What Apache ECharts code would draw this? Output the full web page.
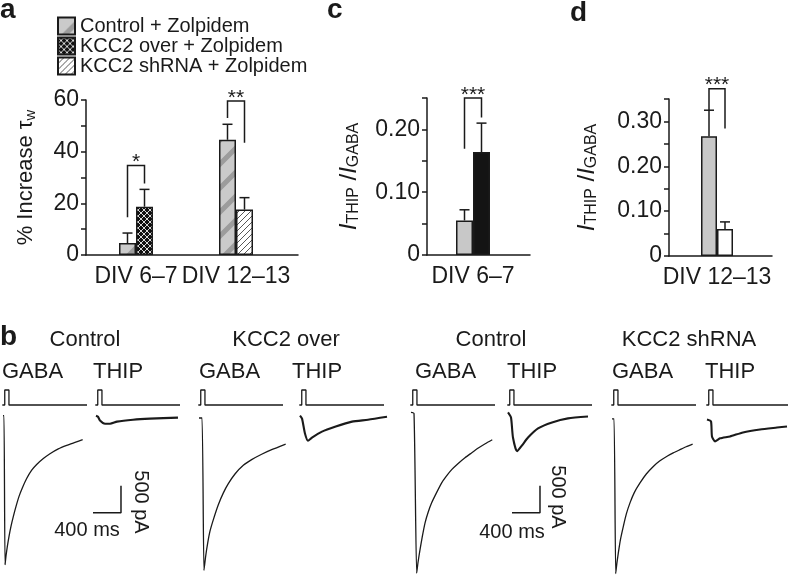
<!DOCTYPE html>
<html>
<head>
<meta charset="utf-8">
<script src="https://cdn.jsdelivr.net/npm/echarts@6/dist/echarts.min.js"></script>
<style>
  html, body { margin: 0; background: #fff; }
  #main { width: 788px; height: 576px; }
</style>
</head>
<body>
<div id="main"></div>
<script>
// ---- panel a: % increase of tau_w with zolpidem
var divA = ["DIV 6–7", "DIV 12–13"];
var ctrlZolp = [4.6, 44.6];
var ctrlZolpErr = [3.9, 6.0];
var overZolp = [18.7, "-"];
var overZolpErr = [6.7, "-"];
var shZolp = ["-", 17.6];
var shZolpErr = ["-", 4.6];
// significance brackets (left leg start, bracket top, right leg start)
var sigACat = [0, 1];
var sigALeft = [14.6, 53];
var sigATop = [34.6, 59.6];
var sigARight = [27.7, 43.5];
var sigAText = ["*", "**"];

// ---- panel c: I_THIP / I_GABA, DIV 6-7
var divC = ["DIV 6–7"];
var ctrlC = [0.055];
var ctrlCErr = [0.017];
var overC = [0.164];
var overCErr = [0.046];
var sigCLeft = [0.169], sigCTop = [0.250], sigCRight = [0.219], sigCText = ["***"];

// ---- panel d: I_THIP / I_GABA, DIV 12-13
var divD = ["DIV 12–13"];
var ctrlD = [0.267];
var ctrlDErr = [0.058];
var shD = [0.060];
var shDErr = [0.016];
var sigDLeft = [0.324], sigDTop = [0.373], sigDRight = [0.284], sigDText = ["***"];

// ---- panel b: example sweeps (time in ms from sweep start, current in pA)
var gaba1T = [0, 14, 29, 43, 62, 86, 114, 148, 186, 229, 276, 338, 410, 481, 576, 671, 790, 910, 1029, 1138];
var gaba1I = [0, 0, -2760, -2600, -2420, -2235, -2050, -1865, -1680, -1495, -1340, -1165, -1010, -905, -795, -705, -615, -550, -495, -445];
var thip1T = [0, 29, 57, 129, 200, 300, 529, 771, 1171];
var thip1I = [0, -20, -90, -150, -150, -110, -75, -55, -35];
var gaba2T = [0, 43, 71, 95, 124, 157, 205, 276, 348, 419, 514, 633, 752, 895, 1038, 1238];
var gaba2I = [-43, -43, -2865, -2605, -2360, -2140, -1925, -1650, -1430, -1260, -1080, -920, -815, -715, -630, -525];
var thip2T = [0, 29, 71, 114, 171, 314, 500, 743, 971, 1243];
var thip2I = [0, -55, -330, -465, -405, -295, -205, -110, -75, -20];
var gaba3T = [0, 43, 81, 100, 129, 160, 200, 245, 295, 360, 438, 500, 581, 670, 771, 860, 962, 1060, 1161];
var gaba3I = [60, 40, -2915, -2720, -2480, -2250, -1990, -1790, -1615, -1440, -1245, -1130, -1000, -890, -780, -695, -600, -520, -445];
var thip3T = [0, 43, 71, 129, 200, 286, 429, 629, 857, 1143];
var thip3I = [60, -35, -405, -660, -550, -405, -235, -125, -50, -15];
var gaba4T = [0, 29, 53, 70, 90, 120, 162, 205, 257, 320, 400, 490, 590, 680, 781, 875, 971, 1060, 1152];
var gaba4I = [-60, -60, -2925, -2730, -2545, -2300, -2050, -1820, -1615, -1420, -1245, -1080, -940, -840, -755, -690, -630, -575, -525];
var thip4T = [0, 57, 71, 114, 186, 329, 514, 757, 1000, 1143];
var thip4I = [-70, -105, -385, -475, -420, -385, -310, -255, -220, -200];
// drug application pulse (relative units)
var stimT = [-10, 25, 25, 85, 85, 1200];
var stimV = [0, 0, 1, 1, 0, 0];
var sweepTitles = ["Control", "KCC2 over", "Control", "KCC2 shRNA"];
var drugNames = ["GABA", "THIP", "GABA", "THIP", "GABA", "THIP", "GABA", "THIP"];
var scaleBarMs = 400, scaleBarPa = 500;

// ---- layout
var INK = "#1a1a1a";
var FONT = '"Liberation Sans", Arial, Helvetica, sans-serif';
var sweepLeft = [3, 96, 199, 300, 411, 508, 612, 707];   // px where each sweep starts
var drugLabelX = [2, 93, 199, 292, 415, 507, 612, 705];
var titleX = [85, 286, 491, 689];
var scaleSweep = [1, 5];                                  // sweeps that carry a scale bar
var scaleCorner = [[357, -1800], [457, -1800]];           // ms, pA
var scaleMsPos = [[87, 530], [512, 532]];
var scalePaPos = [[141, 502], [558, 497]];
var PX_PER_MS = 0.07, T_MIN = -50, T_MAX = 1250;

function pattern(size, bg, draw) {
  var cv = document.createElement("canvas");
  cv.width = cv.height = size;
  var g = cv.getContext("2d");
  g.fillStyle = bg;
  g.fillRect(0, 0, size, size);
  draw(g, size);
  return { image: cv, repeat: "repeat" };
}
function diag(g, s, off) {
  g.beginPath();
  g.moveTo(-s + off, s); g.lineTo(off, 0);
  g.moveTo(off, s); g.lineTo(s + off, 0);
  g.moveTo(s + off, s); g.lineTo(2 * s + off, 0);
  g.stroke();
}
var patCtrl = pattern(24, "#cacaca", function (g, s) {
  g.strokeStyle = "#9c9c9c"; g.lineWidth = 5; diag(g, s, 0);
});
var patOver = pattern(6, "#111", function (g, s) {
  g.strokeStyle = "#d8d8d8"; g.lineWidth = 1;
  g.beginPath(); g.moveTo(0, 0); g.lineTo(s, s); g.moveTo(0, s); g.lineTo(s, 0); g.stroke();
});
var patSh = pattern(6, "#fff", function (g, s) {
  g.strokeStyle = "#444"; g.lineWidth = 0.9; diag(g, s, 0);
});

function zip(a, b) { return a.map(function (v, i) { return [v, b[i]]; }); }
function errData(means, errs) {
  var out = [];
  means.forEach(function (m, i) { if (m !== "-") out.push([i, m, errs[i]]); });
  return out;
}
function errSeries(grid, means, errs, slot, barW) {
  return {
    type: "custom", xAxisIndex: grid, yAxisIndex: grid, z: 3, silent: true,
    data: errData(means, errs),
    renderItem: function (params, api) {
      var base = api.coord([api.value(0), api.value(1)]);
      var tip = api.coord([api.value(0), api.value(1) + api.value(2)]);
      var x = base[0] + slot * barW / 2;
      var st = { stroke: INK, lineWidth: 1.5 };
      return { type: "group", children: [
        { type: "line", shape: { x1: x, y1: base[1], x2: x, y2: tip[1] }, style: st },
        { type: "line", shape: { x1: x - 5, y1: tip[1], x2: x + 5, y2: tip[1] }, style: st }
      ] };
    }
  };
}
function sigSeries(grid, cats, left, top, right, text, barW) {
  return {
    type: "custom", xAxisIndex: grid, yAxisIndex: grid, z: 3, silent: true, clip: false,
    data: cats.map(function (c, i) { return [c, left[i], top[i], right[i]]; }),
    renderItem: function (params, api) {
      var c = api.value(0);
      var l = api.coord([c, api.value(1)]);
      var t = api.coord([c, api.value(2)]);
      var r = api.coord([c, api.value(3)]);
      var xl = l[0] - barW / 2, xr = l[0] + barW / 2;
      return { type: "group", children: [
        { type: "polyline", shape: { points: [[xl, l[1]], [xl, t[1]], [xr, t[1]], [xr, r[1]]] },
          style: { stroke: INK, lineWidth: 1.5, fill: null } },
        { type: "text", x: (xl + xr) / 2, y: t[1] - 3,
          style: { text: text[params.dataIndex], fill: INK, font: "21px " + FONT,
                   align: "center", verticalAlign: "middle" } }
      ] };
    }
  };
}
function barSeries(name, grid, data, color, barW, stack) {
  return {
    type: "bar", name: name, xAxisIndex: grid, yAxisIndex: grid, data: data,
    barWidth: barW, barGap: 0, stack: stack,
    itemStyle: { color: color, borderColor: INK, borderWidth: 1.5 }
  };
}
function hundredths(step) {
  return function (v) {
    var k = Math.round(v * 100);
    return k % step ? "" : (k ? (k / 100).toFixed(2) : "0");
  };
}
var axisText = { fontSize: 23, color: INK, fontFamily: FONT };
var nameText = { fontSize: 22, color: INK, fontFamily: FONT };
var ratioRich = {
  i: { fontSize: 24, fontStyle: "italic", color: INK, fontFamily: FONT },
  s: { fontSize: 16, color: INK, fontFamily: FONT, verticalAlign: "bottom", padding: [9, 0, 0, 0] },
  n: { fontSize: 24, color: INK, fontFamily: FONT }
};
function barYAxis(grid, max, fmt, name, gap, rich) {
  return {
    gridIndex: grid, type: "value", min: 0, max: max, interval: max > 1 ? 10 : 0.05,
    axisLine: { show: true, lineStyle: { color: INK, width: 1.5 } },
    axisTick: { show: true, length: 5, lineStyle: { color: INK, width: 1.5 } },
    axisLabel: Object.assign({ margin: 7, formatter: fmt }, axisText),
    splitLine: { show: false },
    name: name, nameLocation: "middle", nameGap: gap, nameRotate: 90, nameMoveOverlap: false,
    nameTextStyle: Object.assign({ rich: rich }, nameText)
  };
}
function barXAxis(grid, cats) {
  return {
    gridIndex: grid, type: "category", data: cats,
    axisLine: { show: false }, axisTick: { show: false },
    axisLabel: Object.assign({ margin: 10, interval: 0, hideOverlap: false }, axisText)
  };
}
function lineXAxis(grid) {
  return {
    gridIndex: grid, type: "value", min: 0, max: 1,
    axisLine: { show: true, onZero: false, lineStyle: { color: INK, width: 1.5 } },
    axisTick: { show: false }, axisLabel: { show: false }, splitLine: { show: false }
  };
}
function hiddenY(grid, min, max) {
  return { gridIndex: grid, type: "value", show: false, min: min, max: max };
}

var grids = [
  { left: 86, top: 100, width: 200, height: 155 },
  { left: 86, top: 100, width: 212, height: 155 },
  { left: 427, top: 98, width: 92, height: 157 },
  { left: 427, top: 98, width: 103, height: 157 },
  { left: 669, top: 99, width: 96, height: 157 },
  { left: 669, top: 99, width: 103, height: 157 }
];
var xAxes = [barXAxis(0, divA), lineXAxis(1), barXAxis(2, divC), lineXAxis(3), barXAxis(4, divD), lineXAxis(5)];
var yAxes = [
  barYAxis(0, 60, function (v) { return v % 20 ? "" : String(v); }, "% Increase τ{w|w}", 48,
    { w: { fontSize: 15, color: INK, fontFamily: FONT, verticalAlign: "bottom", padding: [9, 0, 0, 0] } }),
  hiddenY(1, 0, 1),
  barYAxis(2, 0.25, hundredths(10), "{i|I}{s|THIP}{n| /}{i|I}{s|GABA}", 65, ratioRich),
  hiddenY(3, 0, 1),
  barYAxis(4, 0.35, hundredths(10), "{i|I}{s|THIP}{n| /}{i|I}{s|GABA}", 69, ratioRich),
  hiddenY(5, 0, 1)
];

var series = [
  barSeries("Control + Zolpidem", 0, ctrlZolp, patCtrl, 17),
  barSeries("KCC2 over + Zolpidem", 0, overZolp, patOver, 17, "alt"),
  barSeries("KCC2 shRNA + Zolpidem", 0, shZolp, patSh, 17, "alt"),
  errSeries(0, ctrlZolp, ctrlZolpErr, -1, 17),
  errSeries(0, overZolp, overZolpErr, 1, 17),
  errSeries(0, shZolp, shZolpErr, 1, 17),
  sigSeries(0, sigACat, sigALeft, sigATop, sigARight, sigAText, 17),

  barSeries("c control", 2, ctrlC, "#c8c8c8", 17),
  barSeries("c KCC2 over", 2, overC, "#141414", 17),
  errSeries(2, ctrlC, ctrlCErr, -1, 17),
  errSeries(2, overC, overCErr, 1, 17),
  sigSeries(2, [0], sigCLeft, sigCTop, sigCRight, sigCText, 17),

  barSeries("d control", 4, ctrlD, "#c8c8c8", 16),
  barSeries("d KCC2 shRNA", 4, shD, "#ffffff", 16),
  errSeries(4, ctrlD, ctrlDErr, -1, 16),
  errSeries(4, shD, shDErr, 1, 16),
  sigSeries(4, [0], sigDLeft, sigDTop, sigDRight, sigDText, 16)
];

var sweeps = [
  [gaba1T, gaba1I], [thip1T, thip1I], [gaba2T, gaba2I], [thip2T, thip2I],
  [gaba3T, gaba3I], [thip3T, thip3I], [gaba4T, gaba4I], [thip4T, thip4I]
];
sweeps.forEach(function (sw, k) {
  var g = grids.length;
  grids.push({ left: sweepLeft[k] + T_MIN * PX_PER_MS, top: 386,
               width: (T_MAX - T_MIN) * PX_PER_MS, height: 190 });
  xAxes.push({ gridIndex: g, type: "value", show: false, min: T_MIN, max: T_MAX });
  var yCur = yAxes.length;
  yAxes.push(hiddenY(g, -2970, 550));
  yAxes.push(hiddenY(g, -11.4, 1.267));
  var thip = k % 2 === 1;
  series.push({
    type: "line", xAxisIndex: g, yAxisIndex: yCur, data: zip(sw[0], sw[1]),
    showSymbol: false, smooth: 0.2, silent: true,
    lineStyle: { color: INK, width: thip ? 2.1 : 1.3 }
  });
  series.push({
    type: "line", xAxisIndex: g, yAxisIndex: yCur + 1, data: zip(stimT, stimV),
    showSymbol: false, silent: true, lineStyle: { color: INK, width: 1.3 }
  });
  var sIdx = scaleSweep.indexOf(k);
  if (sIdx >= 0) {
    var c = scaleCorner[sIdx];
    series.push({
      type: "line", xAxisIndex: g, yAxisIndex: yCur, showSymbol: false, silent: true,
      data: [[c[0] - scaleBarMs, c[1]], [c[0], c[1]], [c[0], c[1] + scaleBarPa]],
      lineStyle: { color: INK, width: 1.5 }
    });
  }
});
grids.forEach(function (g) { g.outerBoundsMode = "none"; g.containLabel = false; });

function txt(s, x, y, size, align, opts) {
  return Object.assign({
    type: "text", x: x, y: y, silent: true,
    style: { text: s, fill: INK, font: size + "px " + FONT, align: align || "left", verticalAlign: "middle" }
  }, opts || {});
}
var graphics = [
  txt("a", 0, 10, "bold 28", "left"),
  txt("b", 0, 337, "bold 28", "left"),
  txt("c", 327, 10, "bold 28", "left"),
  txt("d", 570, 13, "bold 28", "left")
];
sweepTitles.forEach(function (s, i) { graphics.push(txt(s, titleX[i], 340, 22, "center")); });
drugNames.forEach(function (s, i) { graphics.push(txt(s, drugLabelX[i], 372, 22, "left")); });
scaleMsPos.forEach(function (p) { graphics.push(txt(scaleBarMs + " ms", p[0], p[1], 20, "center")); });
scalePaPos.forEach(function (p) {
  graphics.push(txt(scaleBarPa + " pA", p[0], p[1], 20, "center", { rotation: -Math.PI / 2 }));
});

var chart = echarts.init(document.getElementById("main"));
chart.setOption({
  animation: false,
  backgroundColor: "#fff",
  legend: {
    data: ["Control + Zolpidem", "KCC2 over + Zolpidem", "KCC2 shRNA + Zolpidem"],
    left: 57, top: 16, orient: "vertical", padding: 0,
    itemWidth: 17, itemHeight: 17, itemGap: 0, icon: "rect", selectedMode: false,
    textStyle: { fontSize: 20, color: INK, fontFamily: FONT, lineHeight: 20 }
  },
  grid: grids,
  xAxis: xAxes,
  yAxis: yAxes,
  series: series,
  graphic: { elements: graphics }
});
</script>
</body>
</html>
